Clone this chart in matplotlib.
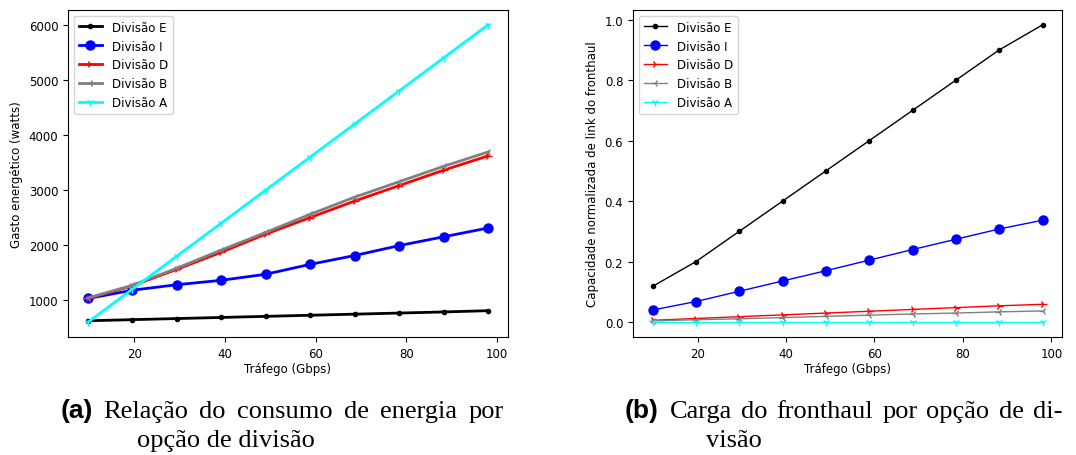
import numpy as np
import matplotlib
matplotlib.use("Agg")
import matplotlib.pyplot as plt

# tráfego (Gbps)
trafego = [9.8, 19.6, 29.4, 39.2, 49.0, 58.8, 68.6, 78.4, 88.2, 98.0]

# gasto energético (watts)
energia_E = [625, 645, 665, 685, 705, 725, 745, 765, 785, 808]
energia_I = [1030, 1180, 1280, 1360, 1470, 1650, 1810, 1990, 2150, 2310]
energia_D = [1030, 1260, 1560, 1870, 2200, 2500, 2800, 3080, 3360, 3620]
energia_B = [1040, 1270, 1580, 1910, 2230, 2560, 2870, 3150, 3430, 3690]
energia_A = [600, 1200, 1800, 2400, 3000, 3600, 4200, 4800, 5400, 6000]

# capacidade normalizada do fronthaul
carga_E = [0.118, 0.2, 0.3, 0.4, 0.5, 0.6, 0.7, 0.8, 0.9, 0.983]
carga_I = [0.040, 0.068, 0.102, 0.136, 0.170, 0.205, 0.240, 0.274, 0.308, 0.337]
carga_D = [0.006, 0.012, 0.018, 0.024, 0.030, 0.036, 0.042, 0.048, 0.054, 0.059]
carga_B = [0.004, 0.008, 0.011, 0.015, 0.019, 0.023, 0.027, 0.030, 0.034, 0.037]
carga_A = [0.0, 0.0, 0.0, 0.0, 0.0, 0.0, 0.0, 0.0, 0.0, 0.0]

nomes = ["Divisão E", "Divisão I", "Divisão D", "Divisão B", "Divisão A"]
cores = ["black", "blue", "red", "gray", "cyan"]
marcadores = [".", "o", "4", "3", "1"]

fs = 8.5

fig = plt.figure(figsize=(10.76, 4.56), dpi=100)
ax1 = fig.add_axes([68/1076, 1 - 338/456, 440/1076, 327/456])
ax2 = fig.add_axes([633/1076, 1 - 338/456, 429/1076, 327/456])

# (a) consumo de energia
for serie, nome, cor, m in zip([energia_E, energia_I, energia_D, energia_B, energia_A],
                               nomes, cores, marcadores):
    ms = 6.5 if m == "o" else 6
    ax1.plot(trafego, serie, color=cor, marker=m, linewidth=2, markersize=ms, label=nome)
ax1.set_xlabel("Tráfego (Gbps)", fontsize=fs, labelpad=2)
ax1.set_ylabel("Gasto energético (watts)", fontsize=fs)
ax1.tick_params(labelsize=fs)
ax1.set_yticks([1000, 2000, 3000, 4000, 5000, 6000])
ax1.legend(loc="upper left", fontsize=fs)

# (b) carga do fronthaul
for serie, nome, cor, m in zip([carga_E, carga_I, carga_D, carga_B, carga_A],
                               nomes, cores, marcadores):
    ms = 6.5 if m == "o" else 6
    ax2.plot(trafego, serie, color=cor, marker=m, linewidth=1, markersize=ms, label=nome)
ax2.set_xlabel("Tráfego (Gbps)", fontsize=fs, labelpad=2)
ax2.set_ylabel("Capacidade normalizada de link do fronthaul", fontsize=fs)
ax2.tick_params(labelsize=fs)
ax2.legend(loc="upper left", fontsize=fs)

# legendas das subfiguras (linha 1 justificada palavra a palavra)
serif = "Liberation Serif"
cap = 19
y1 = 1 - 418/456
y2 = 1 - 447/456


def linha_justificada(palavras, x0, x1, y):
    textos = [fig.text(x0, y, p, fontsize=cap, family=serif, va="baseline")
              for p in palavras]
    fig.canvas.draw()
    r = fig.canvas.get_renderer()
    larg = [t.get_window_extent(r).width / 1076 for t in textos]
    folga = (x1 - x0 - sum(larg)) / (len(palavras) - 1)
    x = x0
    for t, w in zip(textos, larg):
        t.set_x(x)
        x += w + folga


fig.text(61/1076, y1, "(a)", fontsize=cap, fontweight="bold",
         family="Liberation Sans", va="baseline")
linha_justificada("Relação do consumo de energia por".split(), 103/1076, 504/1076, y1)
fig.text(137/1076, y2, "opção de divisão", fontsize=cap, family=serif, va="baseline")

fig.text(625/1076, y1, "(b)", fontsize=cap, fontweight="bold",
         family="Liberation Sans", va="baseline")
linha_justificada("Carga do fronthaul por opção de di-".split(), 670/1076, 1062/1076, y1)
fig.text(706/1076, y2, "visão", fontsize=cap, family=serif, va="baseline")

fig.savefig("out.png", dpi=100)
